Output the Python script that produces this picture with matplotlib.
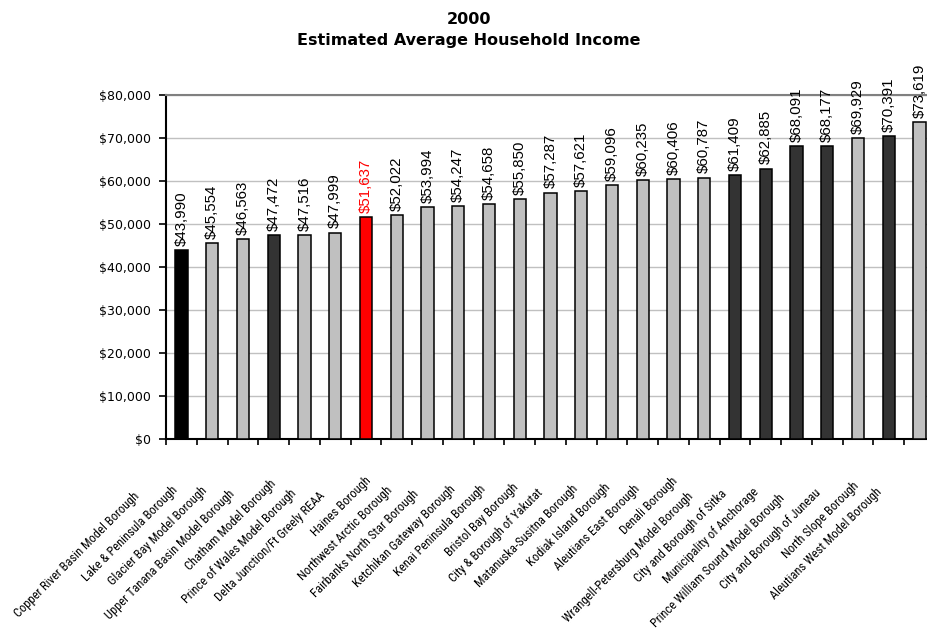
import matplotlib

matplotlib.use("Agg")
import matplotlib.pyplot as plt
from matplotlib.ticker import FuncFormatter, MultipleLocator

boroughs = [
    "Copper River Basin Model Borough",
    "Lake & Peninsula Borough",
    "Glacier Bay Model Borough",
    "Upper Tanana Basin Model Borough",
    "Chatham Model Borough",
    "Prince of Wales Model Borough",
    "Delta Junction/Ft Greely REAA",
    "Haines Borough",
    "Northwest Arctic Borough",
    "Fairbanks North Star Borough",
    "Ketchikan Gateway Borough",
    "Kenai Peninsula Borough",
    "Bristol Bay Borough",
    "City & Borough of Yakutat",
    "Matanuska-Susitna Borough",
    "Kodiak Island Borough",
    "Aleutians East Borough",
    "Denali Borough",
    "Wrangell-Petersburg Model Borough",
    "City and Borough of Sitka",
    "Municipality of Anchorage",
    "Prince William Sound Model Borough",
    "City and Borough of Juneau",
    "North Slope Borough",
    "Aleutians West Model Borough",
]
income = [
    43990, 45554, 46563, 47472, 47516, 47999, 51637, 52022, 53994, 54247,
    54658, 55850, 57287, 57621, 59096, 60235, 60406, 60787, 61409, 62885,
    68091, 68177, 69929, 70391, 73619,
]

BLACK, LIGHT, DARK, RED = "#000000", "#c0c0c0", "#333333", "#ff0000"
bar_colors = [
    BLACK, LIGHT, LIGHT, DARK, LIGHT, LIGHT, RED, LIGHT, LIGHT, LIGHT,
    LIGHT, LIGHT, LIGHT, LIGHT, LIGHT, LIGHT, LIGHT, LIGHT, DARK, DARK,
    DARK, DARK, LIGHT, DARK, LIGHT,
]

fig = plt.figure(figsize=(9.28, 6.28), dpi=100)
# plot area runs a little past the right edge of the page
ax = fig.add_axes([166 / 928, 1 - 439 / 628, 769 / 928, 344 / 628])

x = range(len(boroughs))
ax.bar(x, income, width=0.4, color=bar_colors, edgecolor="black", linewidth=1.1, zorder=3)

for i, value in enumerate(income):
    ax.annotate(
        f"${value:,}",
        xy=(i, value),
        xytext=(0, 3),
        textcoords="offset points",
        rotation=90,
        ha="center",
        va="bottom",
        fontsize=10.8,
        family="Liberation Sans",
        color="red" if bar_colors[i] == RED else "black",
    )

# borough names: centred half their nominal length down the 45 degree line from the tick
for i, name in enumerate(boroughs):
    shift = 2.72 * len(name)
    ax.annotate(
        name,
        xy=(i, 0),
        xycoords=("data", "axes fraction"),
        xytext=(-(17 + shift), -(29 + shift)),
        textcoords="offset pixels",
        rotation=45,
        rotation_mode="anchor",
        ha="center",
        va="center",
        fontsize=9,
        family="Roboto Condensed",
        annotation_clip=False,
    )

ax.set_xlim(-0.5, len(boroughs) - 0.5)
ax.set_ylim(0, 80000)
ax.yaxis.set_major_locator(MultipleLocator(10000))
ax.yaxis.set_major_formatter(FuncFormatter(lambda v, _: f"${v:,.0f}"))
ax.set_xticks([])
ax.set_xticks([i - 0.5 for i in range(len(boroughs) + 1)], minor=True)
ax.tick_params(axis="x", which="minor", direction="out", length=4, width=1.2, color="black")
ax.tick_params(axis="y", direction="out", length=5, width=1.2, pad=6, labelsize=9)
for label in ax.get_yticklabels():
    label.set_family("DejaVu Sans")

ax.grid(axis="y", color="#c0c0c0", linewidth=1, zorder=0)
ax.set_axisbelow(True)
ax.spines["left"].set_linewidth(1.5)
ax.spines["bottom"].set_linewidth(1.5)
ax.spines["top"].set_color("#808080")
ax.spines["top"].set_linewidth(1.5)
ax.spines["right"].set_visible(False)

fig.text(0.505, 1 - 19 / 628, "2000", ha="center", va="center",
         fontsize=11.5, fontweight="bold", family="DejaVu Sans")
fig.text(0.505, 1 - 41 / 628, "Estimated Average Household Income", ha="center", va="center",
         fontsize=11.5, fontweight="bold", family="DejaVu Sans")

fig.savefig("out.png", dpi=100)
